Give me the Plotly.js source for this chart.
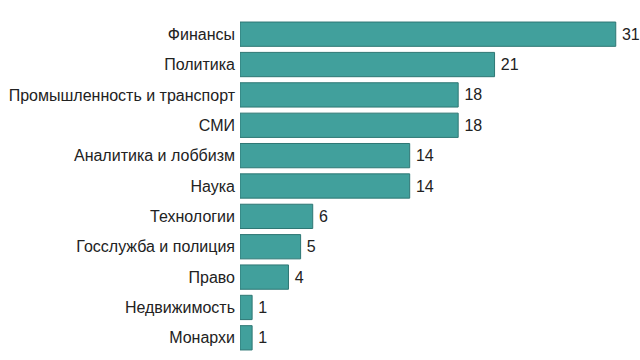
<!DOCTYPE html>
<html><head><meta charset="utf-8">
<script src="https://cdn.plot.ly/plotly-3.0.1.min.js"></script>
<style>html,body{margin:0;padding:0;background:#fff}#chart{width:640px;height:360px}</style>
</head><body><div id="chart"></div>
<script>
const categories = ["Финансы","Политика","Промышленность и транспорт","СМИ","Аналитика и лоббизм","Наука","Технологии","Госслужба и полиция","Право","Недвижимость","Монархи"];
const values = [31,21,18,18,14,14,6,5,4,1,1];

Plotly.newPlot('chart', [{
  type: 'bar', orientation: 'h',
  x: values, y: categories,
  text: values.map(v => '\u2009' + v), textposition: 'outside', cliponaxis: false,
  textfont: {family: 'Liberation Sans, Arial, sans-serif', size: 16, color: '#222'},
  marker: {color: '#41a09c', line: {color: '#2e7774', width: 1}},
  width: 0.8, hoverinfo: 'none'
}], {
  width: 640, height: 360,
  margin: {l: 240, r: 0, t: 19, b: 7},
  paper_bgcolor: '#fff', plot_bgcolor: '#fff',
  font: {family: 'Liberation Sans, Arial, sans-serif', size: 16, color: '#222'},
  xaxis: {range: [0, 33], visible: false, showgrid: false, zeroline: false},
  yaxis: {autorange: 'reversed', showgrid: false, zeroline: false, showline: false, ticks: '', ticklabelstandoff: 4,
          tickfont: {size: 16, color: '#222'}},
  showlegend: false
}, {displayModeBar: false, staticPlot: true});
</script></body></html>
